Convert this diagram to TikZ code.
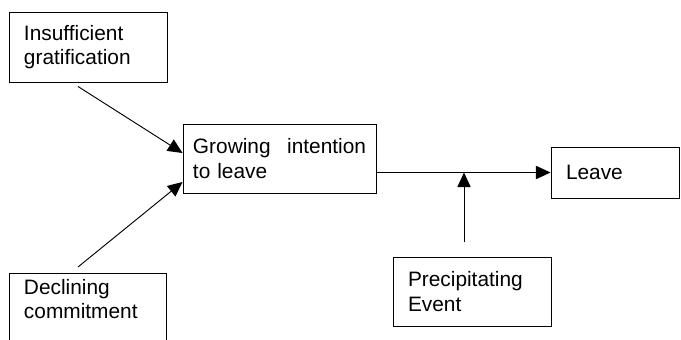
\documentclass[tikz,border=0pt]{standalone}
\usepackage{fontspec}
\setmainfont{Liberation Sans}
\usetikzlibrary{arrows.meta}

\begin{document}
\begin{tikzpicture}[x=0.03cm, y=-0.03cm,
  box/.style={draw, line width=0.8pt, align=left, inner xsep=0.45cm, inner ysep=0pt,
    font=\fontsize{17.8}{20.6}\selectfont},
  arr/.style={line width=0.8pt, -{Triangle[length=0.44cm, width=0.4cm]}}]
  \useasboundingbox (0,0) rectangle (681,339);

  % Causes on the left
  \node[box, text width=3.84cm, minimum height=2.1cm] (ins) at (88,47) {Insufficient\\gratification};
  \node[box, text width=3.81cm, inner ysep=0.17cm, text depth=3cm, anchor=north] (decl) at (87.5,273) {Declining\\commitment};

  % Intention and outcome
  \node[box, text width=5.19cm, inner xsep=0.3cm, minimum height=2.07cm] (grow) at (279.5,158.5) {Growing\hfill intention\\to leave};
  \node[box, text width=2.94cm, minimum height=1.53cm] (leave) at (615,172.5) {Leave};
  \node[box, text width=3.84cm, minimum height=2.07cm] (prec) at (472,291.5) {Precipitating\\Event};

  % Connectors
  \draw[arr] ([shift={(-10,4)}]ins.south) -- ([shift={(0,-5.5)}]grow.west);
  \draw[arr] ([shift={(-9.5,-6)}]decl.north) -- ([shift={(0,23.5)}]grow.west);
  \draw[arr] (grow.east |- leave.west) -- (leave.west);
  \coordinate (evt) at ([shift={(-8,-15)}]prec.north);
  \draw[arr] (evt) -- (evt |- leave.west);
\end{tikzpicture}
\end{document}
